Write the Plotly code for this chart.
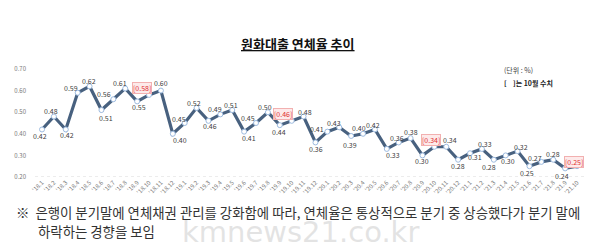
import plotly.graph_objects as go

months = ["'18.1","'18.2","'18.3","'18.4","'18.5","'18.6","'18.7","'18.8","'18.9","'18.10","'18.11","'18.12",
          "'19.1","'19.2","'19.3","'19.4","'19.5","'19.6","'19.7","'19.8","'19.9","'19.10","'19.11","'19.12",
          "'20.1","'20.2","'20.3","'20.4","'20.5","'20.6","'20.7","'20.8","'20.9","'20.10","'20.11","'20.12",
          "'21.1","'21.2","'21.3","'21.4","'21.5","'21.6","'21.7","'21.8","'21.9","'21.10"]
rates = [0.42,0.48,0.42,0.59,0.62,0.51,0.56,0.61,0.55,0.58,0.60,0.40,
         0.45,0.52,0.46,0.49,0.51,0.41,0.45,0.50,0.44,0.46,0.48,0.36,
         0.41,0.43,0.39,0.40,0.42,0.33,0.36,0.38,0.30,0.34,0.34,0.28,
         0.31,0.33,0.28,0.30,0.32,0.25,0.27,0.28,0.24,0.25]
y_ticks = [0.20,0.30,0.40,0.50,0.60,0.70]

FONT = "Noto Sans CJK KR"

# label offsets in px (dx, dy up) -- styling only
label_offsets = [(-2,-7),(-3,6),(1,-6),(-7,5),(-1,5),(5,-8),(-9,5),(-5,5),(2,-6),(-7,7),(0,8),(7,-6),
                 (-6,4),(-3,5),(2,-5),(-5,5),(-1,5),(5,-6),(-8,5),(-3,5),(-1,-7),(-9,7),(1,5),(1,-7),
                 (-10,3),(-5,4),(-1,-9),(-4,6),(-2,4),(6,-6),(-2,4),(0,6),(0,-6),(-3,7),(4,7),(0,-6),
                 (5,-4),(3,5),(-5,-7),(2,-6),(3,4),(-2,-7),(-6,4),(0,6),(-3,-8),(-3,4)]

fig = go.Figure()
fig.add_trace(go.Scatter(
    x=list(range(len(months))), y=rates, mode="lines+markers",
    line=dict(color="#48617f", width=3.2),
    marker=dict(size=5, color="white", line=dict(color="#9dbbe0", width=1)),
    hoverinfo="skip", showlegend=False))

annotations = []
for i, (m, v) in enumerate(zip(months, rates)):
    october = m.endswith(".10")
    txt = f"[{v:.2f}]" if october else f"{v:.2f}"
    dx, dy = label_offsets[i]
    annotations.append(dict(
        x=i, y=v, xref="x", yref="y", text=txt, showarrow=False,
        xshift=dx, yshift=dy, xanchor="center", yanchor="middle",
        font=dict(family=FONT, size=7, color="#e03030" if october else "#404040"),
        bgcolor="#fdeaea" if october else None,
        bordercolor="#f2b0b0" if october else None, borderwidth=1 if october else 0, borderpad=0))

def px_x(px):
    return (px - 35) / 550
def px_y(py):
    return (177 - py) / 108

annotations += [
    dict(x=px_x(298), y=px_y(43), xref="paper", yref="paper", showarrow=False,
         xanchor="center", yanchor="middle",
         text="<b><u>원화대출 연체율 추이</u></b>", font=dict(family=FONT, size=13, color="#111")),
    dict(x=px_x(502), y=px_y(70), xref="paper", yref="paper", showarrow=False,
         xanchor="left", yanchor="middle",
         text="(단위 : %)", font=dict(family=FONT, size=7, color="#444")),
    dict(x=px_x(502), y=px_y(83), xref="paper", yref="paper", showarrow=False,
         xanchor="left", yanchor="middle",
         text="<b>[&nbsp;&nbsp;&nbsp;&nbsp;]는 10월 수치</b>", font=dict(family=FONT, size=7, color="#222")),
    dict(x=px_x(300), y=px_y(232), xref="paper", yref="paper", showarrow=False,
         xanchor="center", yanchor="middle",
         text="kmnews21.co.kr", font=dict(family="DejaVu Sans", size=29, color="rgba(200,200,200,0.5)")),
    dict(x=px_x(14), y=px_y(212), xref="paper", yref="paper", showarrow=False,
         xanchor="left", yanchor="middle",
         text="※&nbsp;&nbsp;은행이 분기말에 연체채권 관리를 강화함에 따라, 연체율은 통상적으로 분기 중 상승했다가 분기 말에",
         font=dict(family=FONT, size=13.4, color="#333")),
    dict(x=px_x(36), y=px_y(231), xref="paper", yref="paper", showarrow=False,
         xanchor="left", yanchor="middle",
         text="하락하는 경향을 보임", font=dict(family=FONT, size=13.4, color="#333")),
]

fig.update_layout(
    width=600, height=249, margin=dict(l=35, r=15, t=69, b=72),
    paper_bgcolor="white", plot_bgcolor="white",
    xaxis=dict(tickmode="array", tickvals=list(range(len(months))), ticktext=months,
               tickangle=-45, tickfont=dict(family=FONT, size=6, color="#777"),
               range=[-0.59, 45.67], showgrid=False, zeroline=False, showline=False, ticks=""),
    yaxis=dict(tickmode="array", tickvals=y_ticks, tickformat=".2f", range=[0.2, 0.7],
               tickfont=dict(family=FONT, size=6, color="#777"), showgrid=False, zeroline=False,
               showline=False, ticks="", ticklabelstandoff=8),
    shapes=[dict(type="line", xref="paper", yref="y", x0=0, x1=1, y0=0.2, y1=0.2,
                 line=dict(color="#d8d8d8", width=1, dash="dot"), layer="below")],
    annotations=annotations,
)

fig.write_html("out.html")
